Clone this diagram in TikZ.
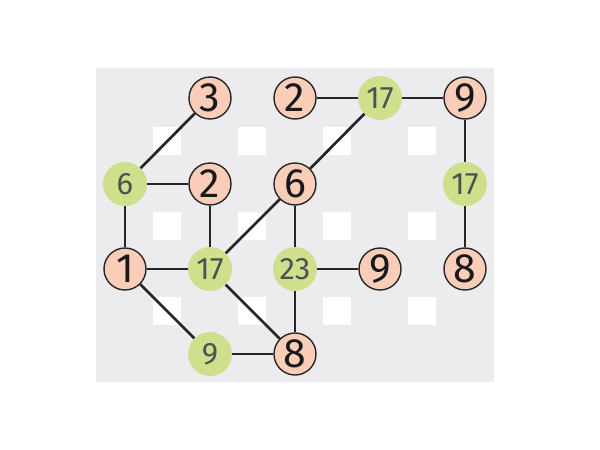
\documentclass[tikz,border=0pt]{standalone}
\usepackage{fontspec}
\setmainfont{Fira Sans}
\definecolor{bg}{HTML}{ECECEE}
\definecolor{salmon}{HTML}{FACDB9}
\definecolor{lime}{HTML}{CFE08C}
\definecolor{lnum}{HTML}{505050}
\begin{document}
\begin{tikzpicture}[x=1pt,y=-1pt,
  bignode/.style={circle,draw=black!85,line width=1.4pt,fill=salmon,minimum size=42pt,inner sep=0pt,
    font=\fontsize{41}{41}\selectfont,text=black!90},
  smallnode/.style={circle,fill=lime,minimum size=44pt,inner sep=0pt,
    font=\fontsize{31}{31}\selectfont,text=lnum},
  hole/.style={fill=white,minimum size=28pt,inner sep=0pt,draw=none},
  edge/.style={line width=2.7pt,black!85}]
\useasboundingbox (0,0) rectangle (600,450);
\fill[bg] (96,68) rectangle (494,382);
\foreach \i/\x in {1/167,2/252,3/337,4/422}
  \foreach \j/\y in {1/141,2/226,3/311}
    \node[hole] (h\i\j) at (\x,\y) {};
% nodes
\node[bignode] (n3) at (210,98) {3};
\node[bignode] (n2a) at (295,98) {2};
\node[smallnode] (g17a) at (380,98) {17};
\node[bignode] (n9a) at (465,98) {9};
\node[smallnode] (g6) at (125,184) {6};
\node[bignode] (n2b) at (210,184) {2};
\node[bignode] (n6) at (295,184) {6};
\node[smallnode] (g17c) at (465,184) {17};
\node[bignode] (n1) at (125,269) {1};
\node[smallnode] (g17b) at (210,269) {17};
\node[smallnode] (g23) at (295,269) {23};
\node[bignode] (n9b) at (380,269) {9};
\node[bignode] (n8a) at (465,269) {8};
\node[smallnode] (g9) at (210,354) {9};
\node[bignode] (n8b) at (295,354) {8};
% edges
\draw[edge] (n3) -- (g6);
\draw[edge] (g6) -- (n2b);
\draw[edge] (g6) -- (n1);
\draw[edge] (n2b) -- (g17b);
\draw[edge] (n2a) -- (g17a);
\draw[edge] (g17a) -- (n9a);
\draw[edge] (g17a) -- (n6);
\draw[edge] (n9a) -- (g17c);
\draw[edge] (g17c) -- (n8a);
\draw[edge] (n6) -- (g17b);
\draw[edge] (n6) -- (g23);
\draw[edge] (g23) -- (n9b);
\draw[edge] (g23) -- (n8b);
\draw[edge] (n1) -- (g17b);
\draw[edge] (n1) -- (g9);
\draw[edge] (g17b) -- (n8b);
\draw[edge] (g9) -- (n8b);
\end{tikzpicture}
\end{document}
